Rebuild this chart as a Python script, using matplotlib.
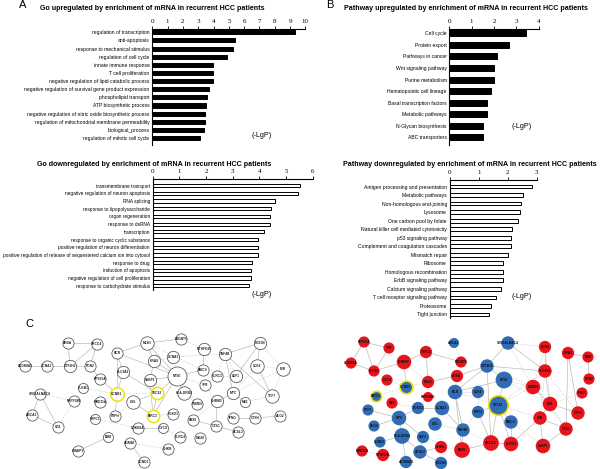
import matplotlib
matplotlib.use("Agg")
import matplotlib.pyplot as plt

plt.rcParams["font.family"] = ["Liberation Sans", "DejaVu Sans"]

# ---- bar chart data ----
go_up_labels = ["regulation of transcription", "anti-apoptosis", "response to mechanical stimulus",
                "regulation of cell cycle", "innate immune response", "T cell proliferation",
                "negative regulation of lipid catabolic process",
                "negative regulation of survival gene product expression", "phospholipid transport",
                "ATP biosynthetic process", "negative regulation of nitric oxide biosynthetic process",
                "regulation of mitochondrial membrane permeability", "biological_process",
                "regulation of mitotic cell cycle"]
go_up_values = [9.32, 5.4, 5.27, 4.86, 3.99, 3.99, 3.99, 3.68, 3.57, 3.53, 3.46, 3.46, 3.36, 3.14]

path_up_labels = ["Cell cycle", "Protein export", "Pathways in cancer", "Wnt signaling pathway",
                  "Purine metabolism", "Hematopoietic cell lineage", "Basal transcription factors",
                  "Metabolic pathways", "N-Glycan biosynthesis", "ABC transporters"]
path_up_values = [3.43, 2.69, 2.12, 2.01, 2.01, 1.87, 1.67, 1.67, 1.51, 1.51]

go_down_labels = ["transmembrane transport", "negative regulation of neuron apoptosis", "RNA splicing",
                  "response to lipopolysaccharide", "organ regeneration", "response to dsRNA",
                  "transcription", "response to organic cyclic substance",
                  "positive regulation of neuron differentiation",
                  "positive regulation of release of sequestered calcium ion into cytosol",
                  "response to drug", "induction of apoptosis",
                  "negative regulation of cell proliferation", "response to carbohydrate stimulus"]
go_down_values = [5.52, 5.44, 4.58, 4.43, 4.4, 4.4, 4.19, 3.93, 3.93, 3.93, 3.71, 3.68, 3.68, 3.63]

path_down_labels = ["Antigen processing and presentation", "Metabolic pathways",
                    "Non-homologous end-joining", "Lysosome", "One carbon pool by folate",
                    "Natural killer cell mediated cytotoxicity", "p53 signaling pathway",
                    "Complement and coagulation cascades", "Mismatch repair", "Ribosome",
                    "Homologous recombination", "ErbB signaling pathway", "Calcium signaling pathway",
                    "T cell receptor signaling pathway", "Proteasome", "Tight junction"]
path_down_values = [2.85, 2.52, 2.47, 2.43, 2.36, 2.16, 2.11, 2.11, 2.02, 1.85, 1.85, 1.83, 1.76,
                    1.6, 1.41, 1.37]

# ---- network data (layout positions in picture pixels) ----
left_nodes = [
    ("ARSA", 68, 343, 5), ("XRCC4", 97, 344, 5), ("ALDH8A1", 25, 366, 5), ("CCNA1", 47, 366, 5),
    ("GTF2H2", 70, 366, 5.5), ("PON2", 90, 366, 5), ("RPS15A", 100, 379, 5), ("KLKB1", 83, 388, 4.5),
    ("ST6GALNAC4", 40, 394, 5), ("PRPF38B", 74, 401, 5), ("ABCA1", 32, 415, 5), ("CR1", 58, 427, 5),
    ("CCNB1", 117, 394, 6), ("MRE11A", 100, 402, 5), ("TRPC1", 95, 419, 4.5), ("PSPH", 115, 416, 5),
    ("LSS", 133, 402, 6), ("B2M", 108, 437, 4.5), ("PMAIP1", 78, 451, 5), ("AGMAT", 130, 443, 5),
    ("CCND3", 144, 462, 5), ("CDKN1A", 138, 428, 5), ("CYCS", 163, 428, 4.5), ("CHKB", 168, 449, 5),
    ("KLRC4", 180, 437, 5), ("BIRC3", 153, 416, 5.5), ("SEC62", 157, 393, 5.5), ("FOXO1", 173, 414, 5),
    ("SSBP1", 150, 380, 5.5), ("SLC9A1", 123, 372, 5.5), ("BCR", 117, 353, 5), ("MLH1", 147, 343, 6),
    ("KRAS", 154, 361, 5.5), ("CCNA2", 173, 357, 5.5), ("B3GNT5", 181, 339, 5), ("NT5E", 177, 376, 8.5),
    ("HLA-DRB4", 184, 393, 6), ("MTHFD2L", 204, 349, 5.5), ("PAICS", 203, 370, 5), ("TPR", 205, 385, 5),
    ("PSMD6", 197, 404, 5), ("CHRM3", 217, 401, 5.5), ("KLRC1", 217, 376, 5), ("TAF4B", 225, 354, 5.5),
    ("LEF1", 236, 376, 5.5), ("MYC", 233, 393, 5.5), ("ME1", 245, 402, 4.5), ("PDE3B", 260, 343, 5.5),
    ("CD59", 257, 366, 6), ("F2R", 283, 369, 6), ("TCF7", 272, 396, 6), ("IFNG", 233, 418, 5),
    ("CTSH", 255, 418, 5), ("ALG2", 280, 416, 5), ("PAX6", 193, 420, 5), ("CTSC", 216, 426, 5),
    ("ACSL3", 238, 432, 5), ("ISG20", 200, 438, 5),
]
left_marked = ["CCNB1", "SEC62", "BIRC3"]
left_edges = [
    ("ARSA", "XRCC4", 1), ("ARSA", "GTF2H2", 1), ("XRCC4", "GTF2H2", 1), ("XRCC4", "PON2", 1),
    ("GTF2H2", "PON2", 1), ("ALDH8A1", "CCNA1", 1), ("CCNA1", "GTF2H2", 1), ("PON2", "RPS15A", 1),
    ("RPS15A", "CCNB1", 1), ("ST6GALNAC4", "ABCA1", 1), ("ST6GALNAC4", "CR1", 1), ("ABCA1", "CR1", 1),
    ("ST6GALNAC4", "PRPF38B", 0), ("PRPF38B", "CR1", 0), ("CCNB1", "SLC9A1", 1), ("CCNB1", "BCR", 1),
    ("CCNB1", "PSPH", 1), ("CCNB1", "MRE11A", 0), ("CCNB1", "SEC62", 0), ("LSS", "SEC62", 1),
    ("LSS", "BIRC3", 1), ("SEC62", "BIRC3", 1), ("SEC62", "NT5E", 1), ("BIRC3", "NT5E", 1),
    ("BIRC3", "SSBP1", 1), ("NT5E", "SSBP1", 1), ("NT5E", "KRAS", 1), ("NT5E", "BCR", 1),
    ("NT5E", "MLH1", 1), ("NT5E", "CCNA2", 0), ("NT5E", "PAICS", 1), ("NT5E", "HLA-DRB4", 1),
    ("NT5E", "TPR", 0), ("BCR", "MLH1", 1), ("MLH1", "B3GNT5", 1), ("MLH1", "KRAS", 1),
    ("B3GNT5", "MTHFD2L", 0), ("MTHFD2L", "PAICS", 1), ("TAF4B", "PDE3B", 1), ("TAF4B", "MYC", 1),
    ("TAF4B", "TCF7", 1), ("PDE3B", "CD59", 1), ("PDE3B", "F2R", 0), ("CD59", "TCF7", 1),
    ("LEF1", "PDE3B", 1), ("MYC", "ME1", 1), ("F2R", "TCF7", 0), ("CHRM3", "CTSC", 1),
    ("CHRM3", "MYC", 1), ("IFNG", "CTSH", 1), ("CTSH", "ALG2", 1), ("ACSL3", "PAX6", 1),
    ("B2M", "PMAIP1", 1), ("AGMAT", "CCND3", 1), ("CDKN1A", "CYCS", 1), ("TRPC1", "CDKN1A", 0),
    ("CYCS", "KLRC4", 0), ("CHKB", "AGMAT", 0), ("SLC9A1", "SEC62", 1), ("KRAS", "SSBP1", 1),
    ("HLA-DRB4", "PSMD6", 0), ("TPR", "CHRM3", 0), ("KLRC1", "LEF1", 0), ("CD59", "MYC", 0),
    ("MYC", "F2R", 0), ("TAF4B", "LEF1", 0), ("PAX6", "CHRM3", 0), ("CTSC", "ACSL3", 0),
    ("CCNA2", "TAF4B", 0), ("KRAS", "CCNA2", 0), ("MLH1", "PAICS", 0), ("SSBP1", "SEC62", 0),
    ("KLRC1", "TAF4B", 0), ("CD59", "F2R", 0), ("ME1", "TCF7", 0), ("BIRC3", "FOXO1", 0),
    ("BCR", "SLC9A1", 1), ("CCNB1", "KLKB1", 0), ("PSPH", "LSS", 0), ("NT5E", "PSMD6", 0),
]

right_nodes = [
    ("RPS15A", 364, 342, "r", 5), ("TPR", 389, 348, "r", 5), ("CDKN1A", 351, 363, "r", 5),
    ("KLKB1", 374, 371, "r", 5), ("CHRM3", 404, 362, "r", 6.5), ("TRPC1", 426, 352, "r", 5.5),
    ("ABCA1", 454, 343, "b", 4.5), ("B3GNT5", 461, 362, "r", 5), ("ST6GALNAC4", 508, 343, "b", 6),
    ("CCR4", 545, 347, "r", 5.5), ("KRAS", 568, 353, "r", 5.5), ("B2M", 588, 357, "r", 5),
    ("GTF2H2", 487, 366, "b", 6), ("SLC6A1", 545, 371, "r", 6), ("PON2", 589, 379, "r", 5),
    ("CYCS", 387, 380, "r", 5), ("CCNB1", 406, 387, "b", 4.5), ("MLH1", 428, 382, "r", 5.5),
    ("ARSA", 457, 376, "r", 5.5), ("NT5E", 504, 380, "b", 7.5), ("BIRC3", 376, 396, "b", 3.5),
    ("PRPF38B", 428, 397, "r", 4.5), ("BCR", 455, 392, "b", 6.5), ("CD59", 478, 392, "b", 5.5),
    ("PSMD6", 533, 387, "r", 6.5), ("IFNG", 582, 393, "r", 5), ("SEC62", 498, 405, "b", 7.5),
    ("LSS", 550, 404, "r", 6.5), ("CTSH", 578, 413, "r", 6), ("ME1", 392, 403, "r", 5),
    ("TCF7", 368, 410, "b", 5), ("FOXO1", 418, 408, "b", 5.5), ("CCNA2", 442, 408, "b", 6.5),
    ("PSPH", 478, 412, "b", 5.5), ("PAICS", 511, 422, "b", 6), ("F2R", 540, 418, "r", 6),
    ("MYC", 399, 418, "b", 6.5), ("ALG2", 374, 426, "b", 5), ("CR1", 435, 424, "b", 6),
    ("TAF4B", 463, 430, "b", 6), ("CTSC", 566, 429, "r", 6), ("HLA-DRB4", 402, 436, "b", 7),
    ("LEF1", 423, 437, "b", 5.5), ("XRCC4", 491, 443, "r", 7), ("KLRC1", 511, 444, "r", 6.5),
    ("SSBP1", 543, 446, "r", 6.5), ("CCND3", 380, 442, "b", 5), ("MRE11A", 362, 451, "r", 5),
    ("MTHFD2L", 383, 455, "r", 5.5), ("ACSL3", 420, 452, "b", 6), ("CHKB", 441, 447, "r", 5.5),
    ("PAX6", 462, 450, "r", 7), ("ALDH8A1", 406, 462, "b", 5.5), ("PDE3B", 441, 463, "b", 5.5),
]
right_marked = ["CCNB1", "BIRC3", "SEC62"]
right_edges = [
    ("RPS15A", "TPR", 1), ("RPS15A", "CDKN1A", 1), ("RPS15A", "KLKB1", 1), ("TPR", "KLKB1", 1),
    ("CDKN1A", "KLKB1", 1), ("CHRM3", "KLKB1", 1), ("CHRM3", "TRPC1", 1), ("CHRM3", "CCNB1", 1),
    ("TRPC1", "B3GNT5", 1), ("ABCA1", "B3GNT5", 0), ("TRPC1", "MLH1", 1), ("ARSA", "MLH1", 1),
    ("ARSA", "GTF2H2", 1), ("ST6GALNAC4", "GTF2H2", 1), ("ST6GALNAC4", "CCR4", 0),
    ("ST6GALNAC4", "SLC6A1", 1), ("GTF2H2", "NT5E", 1), ("GTF2H2", "SLC6A1", 1), ("GTF2H2", "BCR", 1),
    ("GTF2H2", "XRCC4", 1), ("NT5E", "SEC62", 1), ("NT5E", "PSMD6", 0), ("KRAS", "B2M", 1),
    ("KRAS", "CTSH", 1), ("KRAS", "CTSC", 1), ("B2M", "PON2", 1), ("CCR4", "SLC6A1", 1),
    ("CCR4", "PSMD6", 0), ("SLC6A1", "LSS", 1), ("PSMD6", "LSS", 1), ("LSS", "CTSH", 1),
    ("LSS", "F2R", 1), ("F2R", "CTSC", 1), ("F2R", "KLRC1", 1), ("F2R", "SSBP1", 1),
    ("CTSC", "SSBP1", 1), ("KLRC1", "XRCC4", 1), ("XRCC4", "PAX6", 1), ("PAX6", "TAF4B", 1),
    ("BCR", "TAF4B", 1), ("BCR", "CD59", 0), ("BCR", "PAX6", 1), ("CD59", "PSPH", 0),
    ("PSPH", "XRCC4", 1), ("SEC62", "PSPH", 1), ("SEC62", "PAICS", 1), ("SEC62", "XRCC4", 1),
    ("SEC62", "KLRC1", 1), ("PAICS", "KLRC1", 1), ("TAF4B", "CCNA2", 1), ("CCNA2", "FOXO1", 1),
    ("CCNA2", "CR1", 1), ("FOXO1", "MYC", 1), ("MYC", "HLA-DRB4", 1), ("MYC", "ALG2", 1),
    ("MYC", "TCF7", 1), ("MYC", "LEF1", 1), ("HLA-DRB4", "ACSL3", 1), ("HLA-DRB4", "CCND3", 1),
    ("HLA-DRB4", "ALDH8A1", 1), ("LEF1", "ACSL3", 1), ("ACSL3", "PDE3B", 1), ("CHKB", "ACSL3", 1),
    ("CHKB", "PAX6", 0), ("MTHFD2L", "MRE11A", 0), ("ME1", "FOXO1", 0), ("CCNB1", "MLH1", 0),
    ("CCNB1", "BIRC3", 0), ("CYCS", "CCNB1", 0), ("BCR", "NT5E", 1), ("SLC6A1", "SEC62", 0),
    ("PSMD6", "SEC62", 0), ("NT5E", "LSS", 0), ("SLC6A1", "CTSH", 0), ("PSMD6", "CTSC", 0),
    ("LSS", "CTSC", 0), ("SEC62", "F2R", 0), ("PAICS", "SSBP1", 0), ("CR1", "TAF4B", 0),
    ("ARSA", "BCR", 0), ("MLH1", "PRPF38B", 0), ("PRPF38B", "FOXO1", 0), ("CD59", "SEC62", 0),
    ("TAF4B", "XRCC4", 0), ("SLC6A1", "F2R", 0), ("GTF2H2", "PSMD6", 0), ("ST6GALNAC4", "PSMD6", 0),
    ("CCR4", "LSS", 0), ("IFNG", "LSS", 0), ("KLKB1", "CYCS", 0), ("CHRM3", "MLH1", 0),
    ("LEF1", "PAX6", 0), ("CR1", "LEF1", 0), ("BCR", "SEC62", 0), ("PSPH", "TAF4B", 0),
]

W, H = 600, 469
fig = plt.figure(figsize=(6, 4.69), dpi=100)


def rect(x0, y0, x1, y1):
    return [x0 / W, 1 - y1 / H, (x1 - x0) / W, (y1 - y0) / H]


def bar_panel(labels, values, x0, x1, xmax, y_top, first, last, y_bot, hfrac, filled, fs=3.6):
    n = len(labels)
    sp = (last - first) / (n - 1)
    ax = fig.add_axes(rect(x0, y_top, x1, y_bot))
    pos = list(range(n))
    ax.barh(pos, values, height=hfrac, color="black" if filled else "white",
            edgecolor="black", linewidth=0.7)
    ax.set_xlim(0, xmax)
    ax.set_ylim(n - 1 + (y_bot - last) / sp, -(first - y_top) / sp)
    ax.set_yticks(pos)
    ax.set_yticklabels(labels, fontsize=fs)
    ax.tick_params(axis="y", length=0, pad=2)
    ax.xaxis.tick_top()
    ax.set_xticks(range(xmax + 1))
    ax.tick_params(axis="x", length=2, width=0.6, pad=1.5, labelsize=5)
    for t in ax.get_xticklabels():
        t.set_family("Liberation Serif")
    ax.spines["bottom"].set_visible(False)
    ax.spines["right"].set_visible(False)
    ax.spines["top"].set_linewidth(0.8)
    ax.spines["left"].set_linewidth(0.8)
    ax.patch.set_alpha(0)
    return ax


bar_panel(go_up_labels, go_up_values, 152.3, 305.4, 10, 29.3, 32.3, 138, 145, 0.5, True)
bar_panel(path_up_labels, path_up_values, 449.3, 538.7, 4, 29.3, 33.3, 137.3, 145, 0.52, True)
bar_panel(go_down_labels, go_down_values, 152.7, 312.7, 6, 179.3, 185.7, 285.7, 290, 0.42, False,
          fs=3.45)
bar_panel(path_down_labels, path_down_values, 449.7, 536.7, 3, 180, 186.7, 314.3, 318, 0.42, False)

titles = [
    ("Go upregulated by enrichment of mRNA in recurrent HCC patients", 152, 9),
    ("Pathway upregulated by enrichment of mRNA in recurrent HCC patients", 466, 9),
    ("Go downregulated by enrichment of mRNA in recurrent HCC patients", 154, 164),
    ("Pathway downregulated by enrichment of mRNA in recurrent HCC patients", 470, 164),
]
for s, x, y in titles:
    fig.text(x / W, 1 - y / H, s, fontsize=5.1, fontweight="bold", ha="center", va="center")

for x, y in [(262, 135), (521.7, 126.7), (262, 295), (521.7, 297)]:
    fig.text(x / W, 1 - y / H, "(-LgP)", fontsize=5.2, ha="center", va="center")

for s, x, y in [("A", 23, 5), ("B", 330, 5), ("C", 29, 324)]:
    fig.text(x / W, 1 - y / H, s, fontsize=8, ha="center", va="center")

# ---- networks ----
net = fig.add_axes([0, 0, 1, 1])
net.set_xlim(0, W)
net.set_ylim(H, 0)
net.axis("off")
net.patch.set_alpha(0)


def draw_edges(nodes, edges):
    pos = {nd[0]: (nd[1], nd[2]) for nd in nodes}
    for a, b, solid in edges:
        (xa, ya), (xb, yb) = pos[a], pos[b]
        if solid:
            net.plot([xa, xb], [ya, yb], color="#b4b4b4", lw=0.45, zorder=1)
        else:
            net.plot([xa, xb], [ya, yb], color="#cfcfcf", lw=0.45, ls=(0, (3, 2)), zorder=1)


def size_of(r):
    return (2 * 1.12 * r * 0.72) ** 2


draw_edges(left_nodes, left_edges)
for name, x, y, r in left_nodes:
    ec = "#f0e200" if name in left_marked else "#505050"
    lw = 1.1 if name in left_marked else 0.55
    net.scatter([x], [y], s=size_of(r), facecolor="white", edgecolor=ec, linewidth=lw, zorder=2)
    net.text(x, y, name, fontsize=2.3, fontweight="bold", ha="center", va="center",
             color="#222222", zorder=3)

draw_edges([(n[0], n[1], n[2]) for n in right_nodes], right_edges)
colors = {"r": "#e8141c", "b": "#2f6cb5"}
for name, x, y, c, r in right_nodes:
    if name in right_marked:
        net.scatter([x], [y], s=size_of(r + 1.2), facecolor=colors[c], edgecolor="#f0e200",
                    linewidth=1.2, zorder=2)
    else:
        net.scatter([x], [y], s=size_of(r), facecolor=colors[c], edgecolor="none", zorder=2)
    net.text(x, y, name, fontsize=2.3, fontweight="bold", ha="center", va="center",
             color="#111111", zorder=3)

fig.savefig("out.png", dpi=100)
